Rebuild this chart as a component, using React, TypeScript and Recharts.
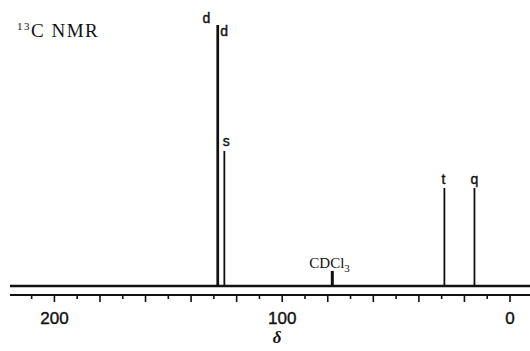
import { ComposedChart, Line, XAxis, YAxis, ReferenceLine, LabelList } from 'recharts';

// carbon peaks (ppm), their stick heights and multiplicity tags
const peakShifts = [128.5, 128.1, 125.4, 28.8, 15.6];
const peakHeights = [261, 261, 135, 98, 98];
const peakTags = ['d', 'd', 's', 't', 'q'];

// solvent signal
const solventShifts = [78.0];
const solventHeights = [15];
const solventTags = ['CDCl3'];

const axisTicks = [210, 200, 190, 180, 170, 160, 150, 140, 130, 120, 110, 100, 90, 80, 70, 60, 50, 40, 30, 20, 10, 0];
const labelledTicks = [200, 100, 0];

// each peak as a stick: baseline -> top -> baseline
const toSticks = (shifts: number[], heights: number[], tags: string[]) =>
  shifts.flatMap((ppm, i) => [
    { ppm, y: 0 },
    { ppm, y: heights[i], tag: tags[i] },
    { ppm, y: 0 },
  ]);

const peakRows = toSticks(peakShifts, peakHeights, peakTags);
const solventRows = toSticks(solventShifts, solventHeights, solventTags);

const ink = '#111';

// label nudges per peak, in drawing order
const tagNudge: [number, number][] = [[-11, -2], [6, 11], [2, -5], [-1, -4], [0, -4.5]];

const PeakTag = (props: any) => {
  const { x, y, value, index } = props;
  if (!value) return null;
  const [dx, dy] = tagNudge[Math.floor(index / 3)] || [0, -4];
  return (
    <text x={x + dx} y={y + dy} textAnchor="middle" fontSize={14} fontFamily="Liberation Sans, Arial, sans-serif"
      fill={ink} stroke={ink} strokeWidth={0.4}>
      {value}
    </text>
  );
};

const SolventTag = (props: any) => {
  const { x, y, value } = props;
  if (!value) return null;
  return (
    <text x={x - 23} y={y - 3} fontSize={15} fontFamily="Liberation Serif, serif" fill={ink}>
      {value.replace(/\d+$/, '')}
      <tspan fontSize={11} dy={4}>{value.match(/\d+$/)?.[0]}</tspan>
    </text>
  );
};

const ShiftTick = (props: any) => {
  const { x, y, payload } = props;
  const v = payload.value as number;
  const major = v % 20 === 0;
  return (
    <g>
      <line x1={x} x2={x} y1={y} y2={y + (major ? 7 : 4)} stroke={ink} strokeWidth={1.6} />
      {labelledTicks.includes(v) && (
        <text x={x} y={y + 29} textAnchor="middle" fontSize={17} fontFamily="Liberation Sans, Arial, sans-serif"
          fill={ink} stroke={ink} strokeWidth={0.4}>
          {v}
        </text>
      )}
    </g>
  );
};

export default function App() {
  return (
    <div style={{ position: 'absolute', left: 0, top: 0, width: 530, height: 351, background: '#fff' }}>
      <ComposedChart width={530} height={351} margin={{ top: 6, right: 0, left: 10, bottom: 0 }}>
        <XAxis
          type="number"
          dataKey="ppm"
          domain={[-8.78, 219.5]}
          allowDataOverflow
          reversed
          ticks={axisTicks}
          interval={0}
          tickLine={false}
          tickSize={0}
          tickMargin={0}
          height={56}
          axisLine={{ stroke: ink, strokeWidth: 2 }}
          tick={<ShiftTick />}
        />
        <YAxis hide type="number" domain={[-9, 280]} allowDataOverflow />
        <ReferenceLine y={0} stroke={ink} strokeWidth={2.4} />
        <Line
          data={solventRows}
          dataKey="y"
          type="linear"
          stroke={ink}
          strokeWidth={3}
          strokeLinejoin="bevel"
          dot={false}
          isAnimationActive={false}
        >
          <LabelList dataKey="tag" content={<SolventTag />} />
        </Line>
        <Line
          data={peakRows}
          dataKey="y"
          type="linear"
          stroke={ink}
          strokeWidth={1.8}
          strokeLinejoin="bevel"
          dot={false}
          isAnimationActive={false}
        >
          <LabelList dataKey="tag" content={<PeakTag />} />
        </Line>
      </ComposedChart>
      <svg width={530} height={351} style={{ position: 'absolute', left: 0, top: 0, pointerEvents: 'none' }}>
        <text x={17} y={36.5} fontFamily="Liberation Serif, serif" fill={ink} letterSpacing={1.5}>
          <tspan fontSize={11} dy={-7}>13</tspan>
          <tspan fontSize={19} dy={7}>C NMR</tspan>
        </text>
        <text x={277} y={343} textAnchor="middle" fontSize={17} fontStyle="italic" fontWeight="bold" fontFamily="Liberation Serif, serif" fill={ink}>
          δ
        </text>
      </svg>
    </div>
  );
}
